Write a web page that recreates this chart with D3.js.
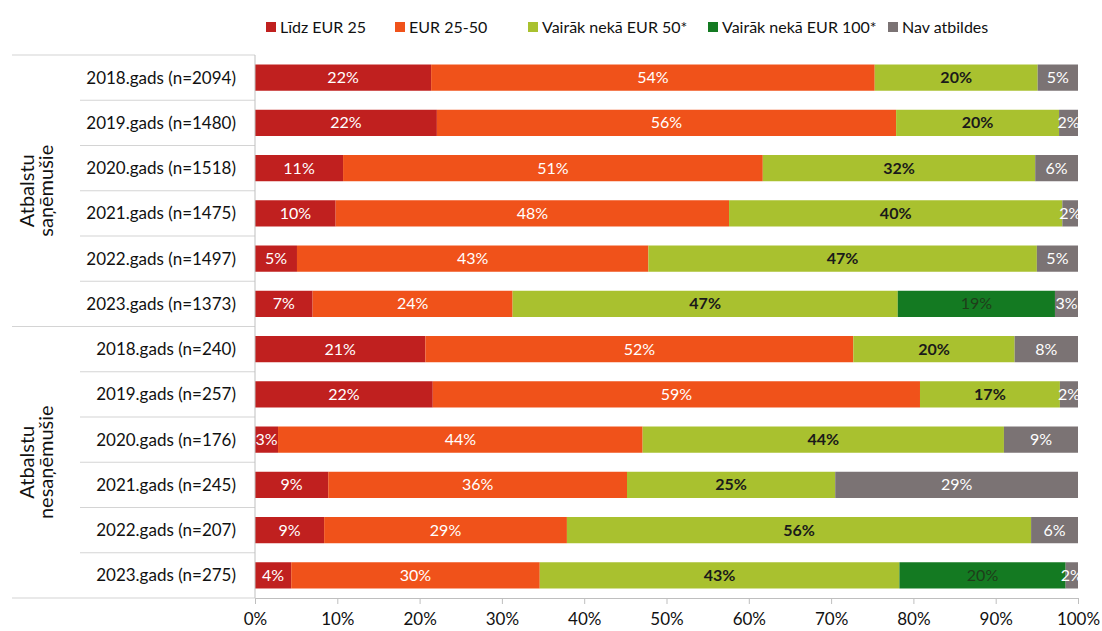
<!DOCTYPE html>
<html>
<head>
<meta charset="utf-8">
<script src="https://cdn.jsdelivr.net/npm/d3@7"></script>
<style>
  body { margin: 0; background: #fff; }
  text { font-family: Lato, "Open Sans", sans-serif; }
</style>
</head>
<body>
<svg class="chart"></svg>
<script>
const rows = [
  "2018.gads (n=2094)", "2019.gads (n=1480)", "2020.gads (n=1518)",
  "2021.gads (n=1475)", "2022.gads (n=1497)", "2023.gads (n=1373)",
  "2018.gads (n=240)", "2019.gads (n=257)", "2020.gads (n=176)",
  "2021.gads (n=245)", "2022.gads (n=207)", "2023.gads (n=275)"
];
const groups = [["Atbalstu", "saņēmušie"], ["Atbalstu", "nesaņēmušie"]];
const seriesNames = ["Līdz EUR 25", "EUR 25-50", "Vairāk nekā EUR 50*", "Vairāk nekā EUR 100*", "Nav atbildes"];

// bar lengths (percent)
const upTo25    = [21.4, 22.1, 10.7, 9.8, 5.1, 7.0, 20.7, 21.6, 2.8, 8.9, 8.4, 4.4];
const eur25to50 = [53.9, 55.8, 51.0, 47.8, 42.7, 24.3, 52.0, 59.2, 44.3, 36.3, 29.5, 30.2];
const over50    = [19.8, 19.8, 33.1, 40.5, 47.2, 46.8, 19.6, 17.0, 43.9, 25.3, 56.4, 43.7];
const over100   = [0, 0, 0, 0, 0, 19.1, 0, 0, 0, 0, 0, 20.2];
const noAnswer  = [4.9, 2.3, 5.2, 1.9, 5.0, 2.8, 7.7, 2.2, 9.0, 29.5, 5.7, 1.5];

// printed data labels
const upTo25Labels    = [22, 22, 11, 10, 5, 7, 21, 22, 3, 9, 9, 4];
const eur25to50Labels = [54, 56, 51, 48, 43, 24, 52, 59, 44, 36, 29, 30];
const over50Labels    = [20, 20, 32, 40, 47, 47, 20, 17, 44, 25, 56, 43];
const over100Labels   = [null, null, null, null, null, 19, null, null, null, null, null, 20];
const noAnswerLabels  = [5, 2, 6, 2, 5, 3, 8, 2, 9, 29, 6, 2];

const xTicks = [0, 10, 20, 30, 40, 50, 60, 70, 80, 90, 100];

const colors = ["#c0201f", "#f0521a", "#a9c12f", "#147a22", "#7b7374"];
const labelColors = ["#fff", "#fff", "#1a1a1a", "#1f3d1a", "#fff"];

const W = 1102, H = 631;
const margin = {top: 55, right: 24, bottom: 33, left: 255};
const width = W - margin.left - margin.right;
const height = H - margin.top - margin.bottom;

const svg = d3.select(".chart").attr("width", W).attr("height", H);

const x = d3.scaleLinear().domain([0, 100]).range([margin.left, margin.left + width]);
const y = d3.scaleBand().domain(rows.map((d, i) => i))
    .range([margin.top, margin.top + height]).paddingInner(0.42).paddingOuter(0.21);

const seriesValues = [upTo25, eur25to50, over50, over100, noAnswer];
const seriesLabels = [upTo25Labels, eur25to50Labels, over50Labels, over100Labels, noAnswerLabels];

const table = rows.map((r, i) => {
  const o = {row: i};
  seriesNames.forEach((s, k) => { o[s] = seriesValues[k][i]; });
  return o;
});
const stack = d3.stack().keys(seriesNames)(table);

// left side separators
const step = y.step();
const rowEdge = (i) => y(i) - y.paddingInner() * step / 2;
const sep = svg.append("g").attr("stroke", "#d4d4d4").attr("stroke-width", 1.2);
rows.forEach((r, i) => {
  if (i === 0 || i === 6) return;
  sep.append("line")
      .attr("x1", 80).attr("x2", margin.left)
      .attr("y1", rowEdge(i)).attr("y2", rowEdge(i));
});
[margin.top, rowEdge(6), margin.top + height].forEach((yy) => {
  sep.append("line").attr("x1", 12).attr("x2", margin.left).attr("y1", yy).attr("y2", yy);
});

// bars
stack.forEach((layer, k) => {
  const g = svg.append("g");
  g.selectAll("rect")
    .data(layer.filter((d) => d[1] - d[0] > 0))
    .enter().append("rect")
      .attr("x", (d) => x(d[0]))
      .attr("y", (d) => y(d.data.row))
      .attr("width", (d) => x(d[1]) - x(d[0]))
      .attr("height", y.bandwidth())
      .attr("fill", colors[k]);
  g.selectAll("text")
    .data(layer.filter((d) => seriesLabels[k][d.data.row] != null))
    .enter().append("text")
      .attr("x", (d) => (x(d[0]) + x(d[1])) / 2)
      .attr("y", (d) => y(d.data.row) + y.bandwidth() / 2)
      .attr("dy", "0.35em")
      .attr("text-anchor", "middle")
      .attr("font-size", 16)
      .attr("font-weight", k === 2 ? "bold" : "normal")
      .attr("fill", labelColors[k])
      .text((d) => seriesLabels[k][d.data.row] + "%");
});

// axes
svg.append("line")
    .attr("x1", margin.left).attr("x2", margin.left)
    .attr("y1", margin.top).attr("y2", margin.top + height)
    .attr("stroke", "#bfbfbf");

const xAxis = svg.append("g")
    .attr("transform", `translate(0,${ margin.top + height })`)
    .call(d3.axisBottom(x).tickValues(xTicks).tickSize(6).tickPadding(9).tickFormat((d) => d + "%"));
xAxis.select(".domain").attr("stroke", "#bfbfbf");
xAxis.selectAll(".tick line").attr("stroke", "#bfbfbf");
xAxis.selectAll(".tick text")
    .attr("font-family", "Lato, sans-serif")
    .attr("font-size", 17).attr("fill", "#111");

// row labels
svg.append("g").selectAll("text")
  .data(rows)
  .enter().append("text")
    .attr("x", margin.left - 19)
    .attr("y", (d, i) => y(i) + y.bandwidth() / 2)
    .attr("dy", "0.35em")
    .attr("text-anchor", "end")
    .attr("font-size", 17)
    .attr("fill", "#111")
    .text((d) => d);

// group labels
groups.forEach((lines, gi) => {
  const cy = (rowEdge(gi * 6) + (gi === 0 ? rowEdge(6) : margin.top + height)) / 2;
  const t = svg.append("text")
      .attr("transform", `translate(38,${ cy }) rotate(-90)`)
      .attr("text-anchor", "middle")
      .attr("font-size", 20)
      .attr("fill", "#111");
  lines.forEach((ln, li) => {
    t.append("tspan").attr("x", 0).attr("dy", li === 0 ? "-0.2em" : "0.95em").text(ln);
  });
});

// legend
const legendX = [266, 395, 528, 708, 888];
const legend = svg.append("g").selectAll("g")
  .data(seriesNames)
  .enter().append("g")
    .attr("transform", (d, i) => `translate(${ legendX[i] },27)`);
legend.append("rect")
    .attr("x", 0).attr("y", -5).attr("width", 10).attr("height", 10)
    .attr("fill", (d, i) => colors[i]);
legend.append("text")
    .attr("x", 14).attr("dy", "0.35em")
    .attr("font-size", 16).attr("fill", "#111")
    .text((d) => d);
</script>
</body>
</html>
